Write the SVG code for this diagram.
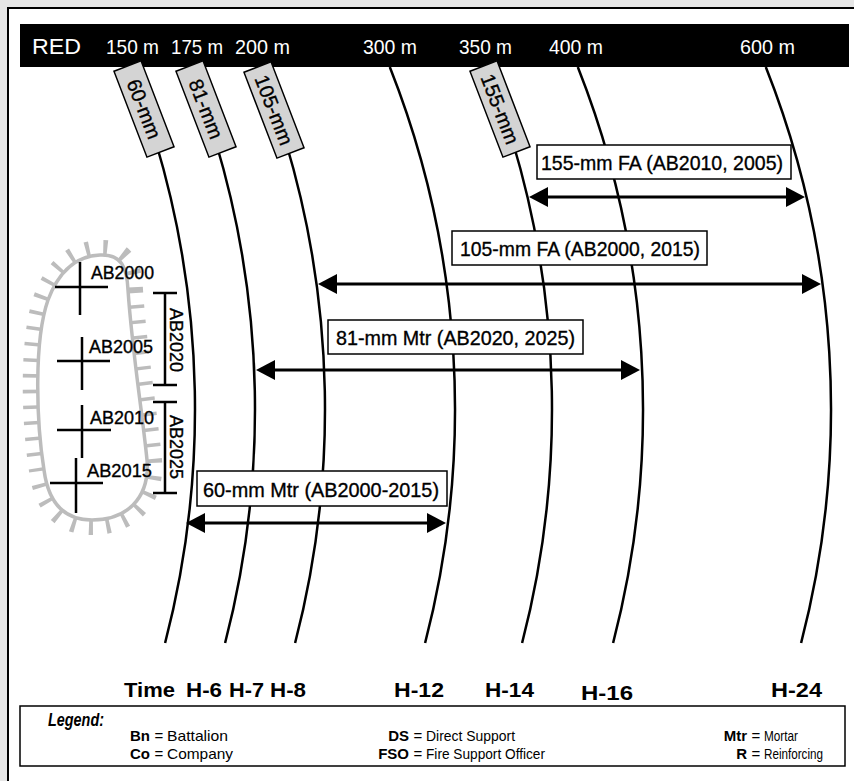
<svg xmlns="http://www.w3.org/2000/svg" width="854" height="781" viewBox="0 0 854 781">
<style>
.t{font-family:"Liberation Sans Narrow","Liberation Sans",Arial,sans-serif;fill:#000}
.d{stroke:#000;stroke-width:0.35}
.w{fill:#fff}
.b{font-weight:bold}
.crv{fill:none;stroke:#000;stroke-width:2.5}
.arr{stroke:#000;stroke-width:3}
.ah{fill:#000}
.lbl{fill:#fff;stroke:#000;stroke-width:1.5}
.glbl{fill:#d4d4d4;stroke:#000;stroke-width:1.5}
.crs{stroke:#000;stroke-width:2.5;fill:none}
.oval{fill:none;stroke:#bcbcbc}
</style>
<rect x="0" y="0" width="854" height="781" fill="#e6e6e6"/>
<rect x="8" y="8" width="880" height="800" fill="#fff" stroke="#000" stroke-width="2"/>

<g id="header">
<rect x="20" y="24" width="829" height="43" fill="#000"/>
<text class="t w" x="32" y="54" font-size="22" textLength="49" lengthAdjust="spacingAndGlyphs">RED</text>
<text class="t w" x="106" y="54" font-size="21" textLength="53" lengthAdjust="spacingAndGlyphs">150 m</text>
<text class="t w" x="171" y="54" font-size="21" textLength="52" lengthAdjust="spacingAndGlyphs">175 m</text>
<text class="t w" x="235" y="54" font-size="21" textLength="55" lengthAdjust="spacingAndGlyphs">200 m</text>
<text class="t w" x="363" y="54" font-size="21" textLength="54" lengthAdjust="spacingAndGlyphs">300 m</text>
<text class="t w" x="459" y="54" font-size="21" textLength="53" lengthAdjust="spacingAndGlyphs">350 m</text>
<text class="t w" x="549" y="54" font-size="21" textLength="54" lengthAdjust="spacingAndGlyphs">400 m</text>
<text class="t w" x="740" y="54" font-size="21" textLength="55" lengthAdjust="spacingAndGlyphs">600 m</text>
</g>

<g id="connectors">
<path class="crv" d="M155.2,140 A930,930 0 0 1 165.1,643"/>
<path class="crv" d="M215.2,140 A930,930 0 0 1 225.1,643"/>
<path class="crv" d="M285.2,140 A930,930 0 0 1 295.1,643"/>
<path class="crv" d="M389.8,67 A930,930 0 0 1 425.1,643"/>
<path class="crv" d="M512.2,140 A930,930 0 0 1 522.1,643"/>
<path class="crv" d="M577.8,67 A930,930 0 0 1 613.1,643"/>
<path class="crv" d="M765.8,67 A930,930 0 0 1 801.1,643"/>

<line class="arr" x1="540" y1="197" x2="795" y2="197"/>
<polygon class="ah" points="529,197 548,187 548,207"/>
<polygon class="ah" points="805,197 786,187 786,207"/>

<line class="arr" x1="328" y1="284" x2="811" y2="284"/>
<polygon class="ah" points="318,284 337,274 337,294"/>
<polygon class="ah" points="821,284 802,274 802,294"/>

<line class="arr" x1="266" y1="370" x2="630" y2="370"/>
<polygon class="ah" points="256,370 275,360 275,380"/>
<polygon class="ah" points="640,370 621,360 621,380"/>

<line class="arr" x1="196" y1="523" x2="436" y2="523"/>
<polygon class="ah" points="186,523 205,513 205,533"/>
<polygon class="ah" points="446,523 427,513 427,533"/>
</g>

<g id="lbl-60mm" transform="translate(144,109) rotate(69)">
<rect class="glbl" x="-46" y="-14.5" width="92" height="29"/>
<text class="t d" x="0" y="7" font-size="20" text-anchor="middle">60-mm</text>
</g>
<g id="lbl-81mm" transform="translate(206,109) rotate(69)">
<rect class="glbl" x="-46" y="-14.5" width="92" height="29"/>
<text class="t d" x="0" y="7" font-size="20" text-anchor="middle">81-mm</text>
</g>
<g id="lbl-105mm" transform="translate(274,110) rotate(69)">
<rect class="glbl" x="-46" y="-14.5" width="92" height="29"/>
<text class="t d" x="0" y="7" font-size="20" text-anchor="middle">105-mm</text>
</g>
<g id="lbl-155mm" transform="translate(500,109) rotate(69)">
<rect class="glbl" x="-46" y="-14.5" width="92" height="29"/>
<text class="t d" x="0" y="7" font-size="20" text-anchor="middle">155-mm</text>
</g>

<g id="fa155">
<rect class="lbl" x="537" y="145" width="254" height="34"/>
<text class="t d" x="541" y="170" font-size="21" textLength="242" lengthAdjust="spacingAndGlyphs">155-mm FA (AB2010, 2005)</text>
</g>
<g id="fa105">
<rect class="lbl" x="452" y="231" width="255" height="34"/>
<text class="t d" x="460" y="256" font-size="21" textLength="240" lengthAdjust="spacingAndGlyphs">105-mm FA (AB2000, 2015)</text>
</g>
<g id="mtr81">
<rect class="lbl" x="328" y="320" width="255" height="34"/>
<text class="t d" x="336" y="345" font-size="21" textLength="239" lengthAdjust="spacingAndGlyphs">81-mm Mtr (AB2020, 2025)</text>
</g>
<g id="mtr60">
<rect class="lbl" x="197" y="471" width="250" height="35"/>
<text class="t d" x="203" y="497" font-size="21" textLength="236" lengthAdjust="spacingAndGlyphs">60-mm Mtr (AB2000-2015)</text>
</g>

<g id="position">
<path class="oval" stroke-width="30" stroke-dasharray="3.5 12" d="M128,290 C132,350 142,410 147,460 C150,500 125,520 92,520 C62,520 48,500 44,470 C36,420 34,340 48,300 C60,268 78,256 100,255 C122,254 127,268 128,290 Z"/>
<path fill="#fff" d="M128,290 C132,350 142,410 147,460 C150,500 125,520 92,520 C62,520 48,500 44,470 C36,420 34,340 48,300 C60,268 78,256 100,255 C122,254 127,268 128,290 Z"/>
<path class="oval" stroke-width="3.5" d="M128,290 C132,350 142,410 147,460 C150,500 125,520 92,520 C62,520 48,500 44,470 C36,420 34,340 48,300 C60,268 78,256 100,255 C122,254 127,268 128,290 Z"/>
</g>

<g id="ab2000">
<path class="crs" d="M80,262 V315 M55,287 H108"/>
<text class="t d" x="91" y="279" font-size="18" textLength="63" lengthAdjust="spacingAndGlyphs">AB2000</text>
</g>
<g id="ab2005">
<path class="crs" d="M82,337 V390 M57,361 H110"/>
<text class="t d" x="89" y="353" font-size="18" textLength="64" lengthAdjust="spacingAndGlyphs">AB2005</text>
</g>
<g id="ab2010">
<path class="crs" d="M82,405 V458 M57,430 H111"/>
<text class="t d" x="90" y="424" font-size="18" textLength="64" lengthAdjust="spacingAndGlyphs">AB2010</text>
</g>
<g id="ab2015">
<path class="crs" d="M76,458 V513 M50,483 H103"/>
<text class="t d" x="87" y="477" font-size="18" textLength="65" lengthAdjust="spacingAndGlyphs">AB2015</text>
</g>

<g id="ab2020">
<path class="crs" d="M165,293 V385 M153,293 H177 M153,385 H177"/>
<text class="t d" transform="translate(170,340) rotate(90)" x="0" y="0" font-size="18" text-anchor="middle" textLength="64" lengthAdjust="spacingAndGlyphs">AB2020</text>
</g>
<g id="ab2025">
<path class="crs" d="M165,402 V493 M153,402 H177 M153,493 H177"/>
<text class="t d" transform="translate(170,447) rotate(90)" x="0" y="0" font-size="18" text-anchor="middle" textLength="64" lengthAdjust="spacingAndGlyphs">AB2025</text>
</g>

<g id="time">
<text class="t b" x="124" y="697" font-size="20" textLength="51" lengthAdjust="spacingAndGlyphs">Time</text>
<text class="t b" x="186" y="697" font-size="20" textLength="36" lengthAdjust="spacingAndGlyphs">H-6</text>
<text class="t b" x="229" y="697" font-size="20" textLength="35" lengthAdjust="spacingAndGlyphs">H-7</text>
<text class="t b" x="270" y="697" font-size="20" textLength="36" lengthAdjust="spacingAndGlyphs">H-8</text>
<text class="t b" x="394" y="697" font-size="20" textLength="50" lengthAdjust="spacingAndGlyphs">H-12</text>
<text class="t b" x="485" y="697" font-size="20" textLength="49" lengthAdjust="spacingAndGlyphs">H-14</text>
<text class="t b" x="581" y="700" font-size="20" textLength="52" lengthAdjust="spacingAndGlyphs">H-16</text>
<text class="t b" x="771" y="697" font-size="20" textLength="51" lengthAdjust="spacingAndGlyphs">H-24</text>
</g>

<g id="legend">
<rect x="20" y="706" width="825" height="60" fill="#fff" stroke="#000" stroke-width="1.5"/>
<text class="t b" x="48" y="726" font-size="19" font-style="italic" textLength="56" lengthAdjust="spacingAndGlyphs">Legend:</text>
<g font-size="15">
<text class="t b" x="150" y="741" text-anchor="end">Bn</text>
<text class="t" x="159" y="741" text-anchor="middle">=</text>
<text class="t" x="167" y="741" textLength="61" lengthAdjust="spacingAndGlyphs">Battalion</text>
<text class="t b" x="150" y="759" text-anchor="end">Co</text>
<text class="t" x="159" y="759" text-anchor="middle">=</text>
<text class="t" x="167" y="759" textLength="66" lengthAdjust="spacingAndGlyphs">Company</text>
<text class="t b" x="409" y="741" text-anchor="end">DS</text>
<text class="t" x="418" y="741" text-anchor="middle">=</text>
<text class="t" x="426" y="741" textLength="89" lengthAdjust="spacingAndGlyphs">Direct Support</text>
<text class="t b" x="409" y="759" text-anchor="end">FSO</text>
<text class="t" x="418" y="759" text-anchor="middle">=</text>
<text class="t" x="426" y="759" textLength="119" lengthAdjust="spacingAndGlyphs">Fire Support Officer</text>
<text class="t b" x="747" y="741" text-anchor="end">Mtr</text>
<text class="t" x="756" y="741" text-anchor="middle">=</text>
<text class="t" x="764" y="741" textLength="34" lengthAdjust="spacingAndGlyphs">Mortar</text>
<text class="t b" x="747" y="759" text-anchor="end">R</text>
<text class="t" x="756" y="759" text-anchor="middle">=</text>
<text class="t" x="764" y="759" textLength="59" lengthAdjust="spacingAndGlyphs">Reinforcing</text>
</g>
</g>
</svg>
